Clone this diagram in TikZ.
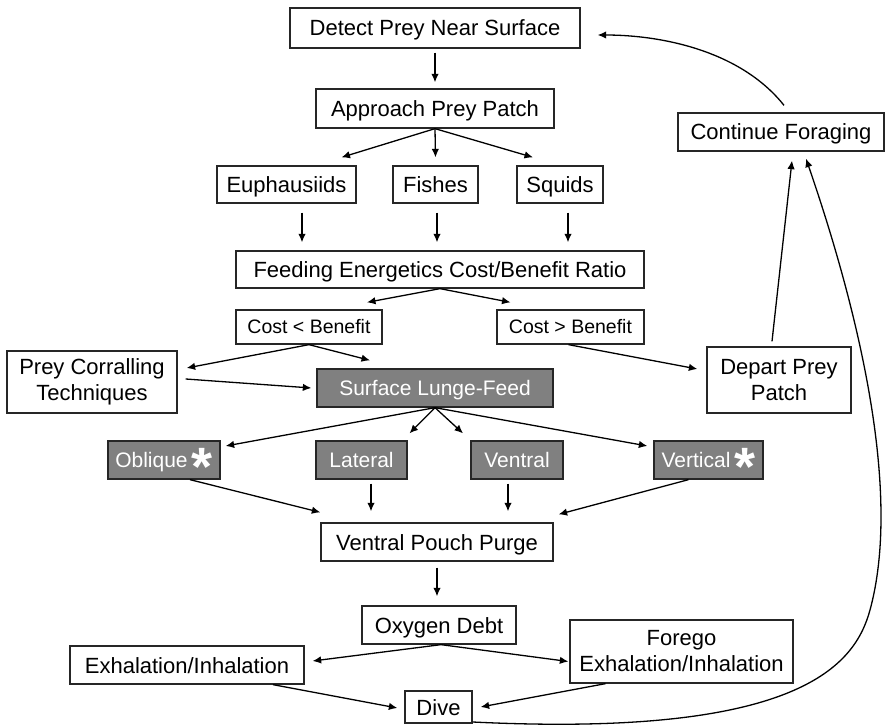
\documentclass[tikz,border=0pt]{standalone}
\usepackage{fontspec}
\setmainfont{Liberation Sans}
\usetikzlibrary{arrows.meta,calc}
\definecolor{boxgray}{RGB}{128,128,128}
\newcommand{\myast}{\hspace{4pt}\raisebox{-18pt}{\fontsize{54}{54}\selectfont\bfseries *}}
\tikzset{
 box/.style={draw=black!85, line width=1.3pt, fill=white, inner sep=0pt, align=center, font=\fontsize{22}{26}\selectfont},
 onel/.style={text height=18pt, text depth=2pt},
 gbox/.style={box, onel, fill=boxgray, text=white, font=\fontsize{21}{25}\selectfont, text height=17.5pt, text depth=2.5pt},
 cbox/.style={box, font=\fontsize{19.5}{23}\selectfont, text height=16pt, text depth=2pt},
 arr/.style={line width=1.3pt, -{Latex[length=8.5pt,width=7.5pt]}},
}
\begin{document}
\begin{tikzpicture}[x=1pt,y=-1pt]
\useasboundingbox (0,0) rectangle (887,727);
\node[box, onel, minimum width=290pt, minimum height=40pt] (detect) at (435,28) {Detect Prey Near Surface};
\node[box, onel, minimum width=238pt, minimum height=39pt] (approach) at (435,108.5) {Approach Prey Patch};
\node[box, onel, minimum width=139pt, minimum height=37pt] (euph) at (286.5,184.5) {Euphausiids};
\node[box, onel, minimum width=85pt, minimum height=37pt] (fishes) at (435.5,184.5) {Fishes};
\node[box, onel, minimum width=86pt, minimum height=37pt] (squids) at (560,184.5) {Squids};
\node[box, onel, minimum width=408pt, minimum height=37pt] (feeding) at (440,269.5) {Feeding Energetics Cost/Benefit Ratio};
\node[cbox, minimum width=146pt, minimum height=34pt] (costlt) at (309,327) {Cost < Benefit};
\node[cbox, minimum width=147pt, minimum height=34pt] (costgt) at (570.5,327) {Cost > Benefit};
\node[box, minimum width=170pt, minimum height=62pt] (corral) at (92,382) {Prey Corralling\\Techniques};
\node[gbox, minimum width=236pt, minimum height=38pt] (surface) at (435,388) {Surface Lunge-Feed};
\node[box, minimum width=144pt, minimum height=66pt] (depart) at (779,380) {Depart Prey\\Patch};
\node[box, onel, minimum width=206pt, minimum height=38pt] (cont) at (781,132) {Continue Foraging};
\node[gbox, minimum width=112pt, minimum height=38pt] (oblique) at (164,460) {Oblique\myast};
\node[gbox, minimum width=91pt, minimum height=38pt] (lateral) at (361.5,460) {Lateral};
\node[gbox, minimum width=92pt, minimum height=38pt] (ventral) at (517,460) {Ventral};
\node[gbox, minimum width=109pt, minimum height=38pt] (vertical) at (708.5,460) {Vertical\myast};
\node[box, onel, minimum width=232pt, minimum height=38pt] (vpp) at (437,542) {Ventral Pouch Purge};
\node[box, onel, minimum width=154pt, minimum height=38pt] (oxygen) at (439,625) {Oxygen Debt};
\node[box, onel, minimum width=234pt, minimum height=38pt] (exh) at (187,665) {Exhalation/Inhalation};
\node[box, minimum width=223pt, minimum height=63pt] (forego) at (681.5,651.5) {Forego\\Exhalation/Inhalation};
\node[box, onel, minimum width=67pt, minimum height=32pt] (dive) at (438.5,707) {Dive};

\draw[arr] ([yshift=-4pt]detect.south) -- ([yshift=6pt]approach.north);
\draw[arr] (approach.south) -- ([xshift=55pt,yshift=8pt]euph.north);
\draw[arr] (approach.south) -- ([yshift=8pt]fishes.north);
\draw[arr] (approach.south) -- ([xshift=-27pt,yshift=8pt]squids.north);
\draw[arr] ([xshift=15.5pt,yshift=-9pt]euph.south) -- ([xshift=-138pt,yshift=8pt]feeding.north);
\draw[arr] ([xshift=1.5pt,yshift=-9pt]fishes.south) -- ([xshift=-3pt,yshift=8pt]feeding.north);
\draw[arr] ([xshift=8pt,yshift=-9pt]squids.south) -- ([xshift=128pt,yshift=8pt]feeding.north);
\draw[arr] (feeding.south) -- ([xshift=58pt,yshift=7pt]costlt.north);
\draw[arr] (feeding.south) -- ([xshift=-60pt,yshift=7pt]costgt.north);
\draw[arr] (costlt.south) -- ([xshift=9pt,yshift=14pt]corral.east);
\draw[arr] (costlt.south) -- ([xshift=-65pt,yshift=8pt]surface.north);
\draw[arr] ([xshift=8pt,yshift=3pt]corral.east) -- ([xshift=-5pt]surface.west);
\draw[arr] ([xshift=-2pt]costgt.south) -- ([xshift=-9pt,yshift=11pt]depart.west);
\draw[arr] ([xshift=-7pt,yshift=5pt]depart.north) -- ([xshift=11pt,yshift=-9pt]cont.south);
\draw[arr] ([xshift=3pt,yshift=7pt]cont.north) .. controls (740,50) and (660,35) .. ([xshift=17pt,yshift=-7pt]detect.east);
\draw[arr] (surface.south) -- ([xshift=5pt,yshift=14pt]oblique.east);
\draw[arr] (surface.south) -- ([xshift=48pt,yshift=7pt]lateral.north);
\draw[arr] (surface.south) -- ([xshift=-54pt,yshift=7pt]ventral.north);
\draw[arr] (surface.south) -- ([xshift=-6pt,yshift=14pt]vertical.west);
\draw[arr] ([xshift=26pt]oblique.south) -- ([yshift=10pt]vpp.north west);
\draw[arr] ([xshift=9.5pt,yshift=-4pt]lateral.south) -- ([xshift=-66pt,yshift=11pt]vpp.north);
\draw[arr] ([xshift=-9pt,yshift=-4pt]ventral.south) -- ([xshift=71pt,yshift=11pt]vpp.north);
\draw[arr] ([xshift=-20pt]vertical.south) -- ([xshift=5pt,yshift=8pt]vpp.north east);
\draw[arr] ([yshift=-6pt]vpp.south) -- ([xshift=-2pt,yshift=9pt]oxygen.north);
\draw[arr] ([xshift=2pt]oxygen.south) -- ([xshift=8pt,yshift=4pt]exh.east);
\draw[arr] ([xshift=2pt]oxygen.south) -- ([xshift=-1pt,yshift=-10pt]forego.west);
\draw[arr] ([xshift=86pt]exh.south) -- ([xshift=-7pt,yshift=-1pt]dive.west);
\draw[arr] ([xshift=-76pt]forego.south) -- ([xshift=8pt]dive.east);
\draw[arr] ([yshift=-15pt]dive.east) .. controls (800,738) and (855,665) .. (870,610)
  .. controls (900,500) and (865,330) .. ([xshift=25pt,yshift=-7pt]cont.south);
\end{tikzpicture}
\end{document}
